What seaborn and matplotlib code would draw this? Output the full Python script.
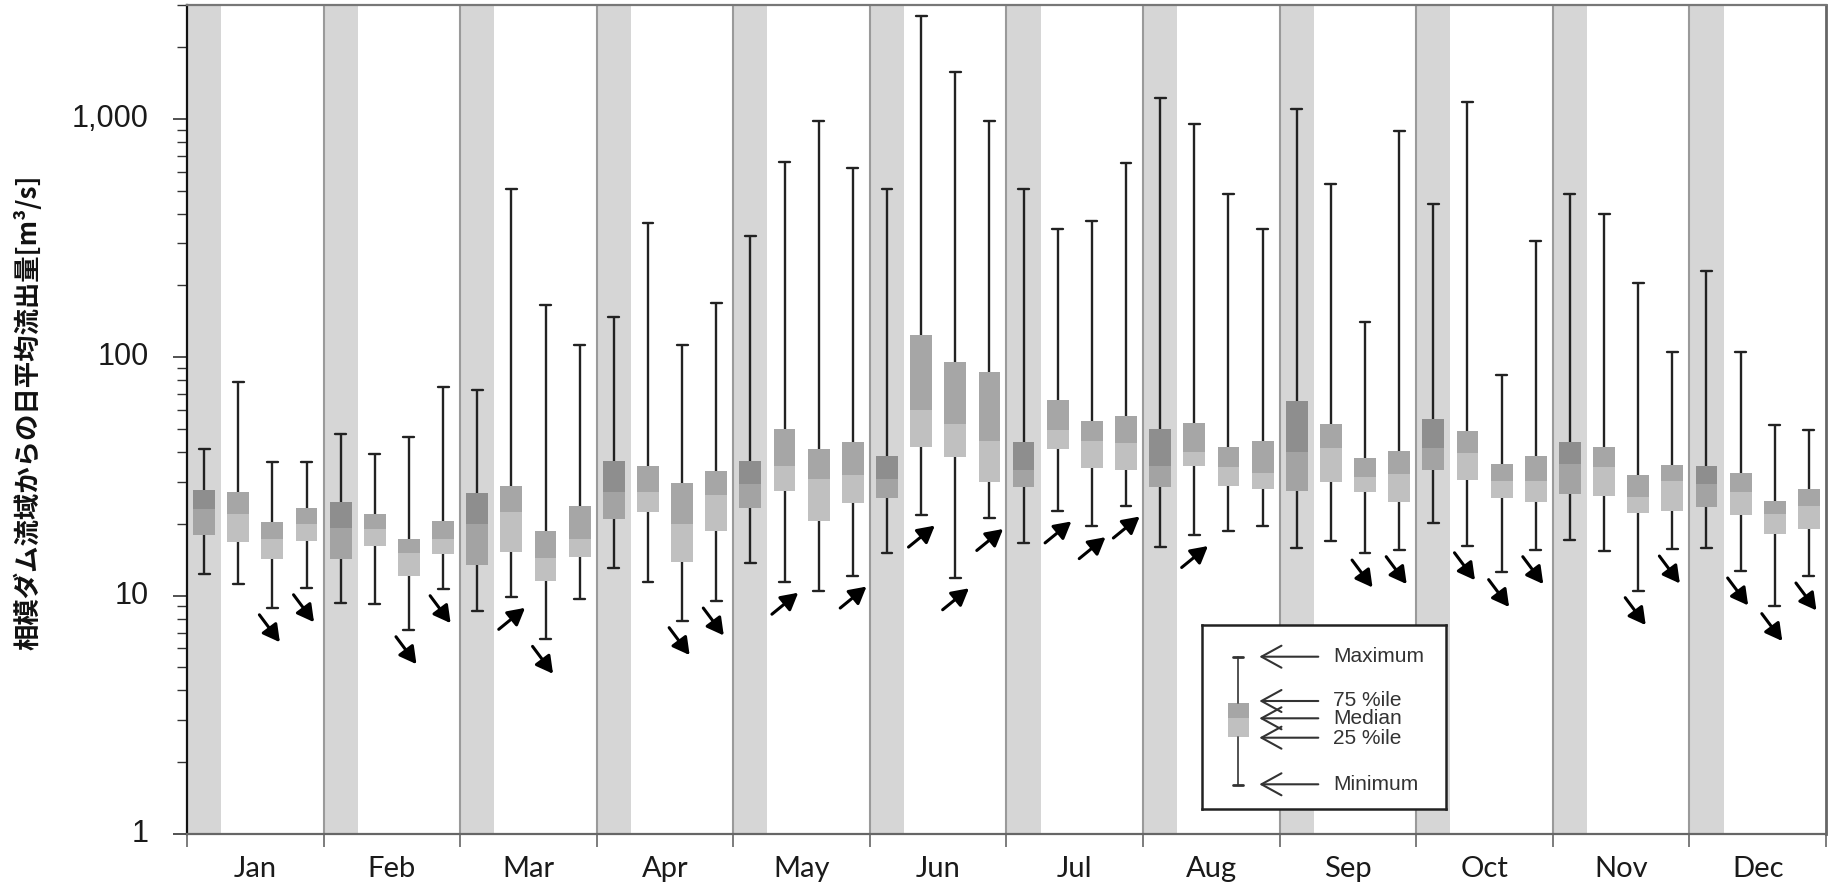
import numpy as np
import pandas as pd
import matplotlib
matplotlib.use("Agg")
import matplotlib.pyplot as plt
from matplotlib.patches import Rectangle
from matplotlib.ticker import FixedLocator, LogLocator, NullFormatter
import seaborn as sns

months = ["Jan", "Feb", "Mar", "Apr", "May", "Jun",
          "Jul", "Aug", "Sep", "Oct", "Nov", "Dec"]

# 4 boxes per month: whole record first (shaded band), then three sub-periods
flow_max = [41, 79, 36.5, 36.5,      47.7, 39.1, 46.2, 75,
            72.5, 505, 165, 112,     148, 367, 112, 168,
            321, 660, 980, 620,      507, 2700, 1570, 980,
            507, 345, 372, 652,      1220, 950, 482, 345,
            1100, 532, 141, 885,     440, 1170, 84.4, 306,
            482, 400, 205, 105,      229, 105, 51.9, 49.6]
flow_q3 = [27.6, 27.2, 20.3, 23.4,   24.6, 21.9, 17.3, 20.5,
           26.9, 28.7, 18.6, 23.8,   36.7, 35.0, 29.6, 33.4,
           36.7, 49.9, 41.1, 43.9,   38.6, 124, 95.7, 86.3,
           44.0, 66.3, 54.2, 56.9,   50.1, 53.2, 42.0, 44.7,
           65.2, 52.4, 37.9, 40.5,   55.0, 49.1, 35.6, 38.6,
           44.0, 41.8, 32.1, 35.4,   34.8, 32.6, 25.0, 28.0]
flow_med = [23.0, 22.0, 17.2, 20.0,  19.3, 19.0, 15.1, 17.2,
            19.9, 22.5, 14.4, 17.2,  27.1, 27.1, 19.9, 26.4,
            29.4, 35.1, 30.9, 31.9,  30.9, 60.2, 52.6, 44.3,
            33.5, 49.6, 44.3, 43.6,  35.1, 40.2, 34.6, 32.8,
            40.2, 41.6, 31.3, 32.4,  41.6, 39.6, 30.3, 30.3,
            35.7, 34.6, 26.0, 30.1,  29.4, 27.3, 22.0, 23.8]
flow_q1 = [18.0, 16.8, 14.3, 17.0,   14.3, 16.2, 12.1, 15.0,
           13.5, 15.3, 11.5, 14.5,   21.0, 22.5, 13.8, 18.7,
           23.2, 27.5, 20.5, 24.5,   25.6, 42.2, 38.3, 29.9,
           28.6, 41.1, 34.2, 33.7,   28.6, 34.8, 28.9, 28.0,
           27.5, 29.9, 27.1, 24.8,   33.7, 30.4, 25.6, 24.6,
           26.6, 26.2, 22.3, 22.7,   23.5, 21.7, 18.1, 19.0]
flow_min = [12.3, 11.2, 8.9, 10.8,   9.35, 9.2, 7.2, 10.7,
            8.6, 9.85, 6.56, 9.66,   13.0, 11.4, 7.86, 9.5,
            13.7, 11.4, 10.5, 12.1,  15.1, 21.8, 11.9, 21.1,
            16.6, 22.7, 19.5, 23.8,  16.0, 17.9, 18.6, 19.5,
            15.8, 16.9, 15.1, 15.6,  20.1, 16.2, 12.5, 15.6,
            17.1, 15.4, 10.5, 15.7,  15.9, 12.7, 9.0, 12.1]
# trend arrows: +1 increasing, -1 decreasing, 0 none
trend = [0, 0, -1, -1,   0, 0, -1, -1,   0, 1, -1, 0,    0, 0, -1, -1,
         0, 1, 0, 1,     0, 1, 1, 1,     0, 1, 1, 1,     0, 1, 0, 0,
         0, 0, -1, -1,   0, -1, -1, -1,  0, 0, -1, -1,   0, -1, -1, -1]

y_ticks = [1, 10, 100, 1000]
y_ticklabels = ['1', '10', '100', '1,000']
legend_labels = ["Maximum", "75 %ile", "Median", "25 %ile", "Minimum"]

sns.set_theme(style="white")
plt.rcParams['font.family'] = ['Liberation Sans', 'DejaVu Sans']

n_box = len(flow_max)
rows = []
for i in range(n_box):
    kind = 'all' if i % 4 == 0 else 'sub'
    for v in (flow_min[i], flow_q1[i], flow_med[i], flow_q3[i], flow_max[i]):
        rows.append({'slot': i, 'flow': v, 'kind': kind})
df = pd.DataFrame(rows)

fig = plt.figure(figsize=(18.29, 8.88), dpi=100)
ax = fig.add_axes([187 / 1829, 54 / 888, 1639 / 1829, 829 / 888])

# shaded first slot of each month + month separators
for k in range(12):
    ax.axvspan(4 * k - 0.5, 4 * k + 0.5, color='#d6d6d6', lw=0, zorder=0)
    if k:
        ax.axvline(4 * k - 0.5, color='#9a9a9a', lw=1.5, zorder=0.5)

sns.boxplot(data=df, x='slot', y='flow', hue='kind',
            palette={'all': '#a3a3a3', 'sub': '#c0c0c0'}, saturation=1,
            dodge=False, width=0.64, whis=(0, 100), linecolor='#222222',
            linewidth=1.7, legend=False, ax=ax,
            boxprops={'linewidth': 0}, medianprops={'visible': False})

# darker upper half (median -> 75 %ile)
pos = np.arange(n_box)
q3 = np.array(flow_q3)
md = np.array(flow_med)
upper_col = ['#8e8e8e' if i % 4 == 0 else '#a6a6a6' for i in pos]
ax.bar(pos, q3 - md, bottom=md, width=0.64, color=upper_col, lw=0, zorder=3)

ax.set_yscale('log')
ax.set_ylim(1, 3000)
ax.set_xlim(-0.5, 47.5)

for i, t in enumerate(trend):
    if t == 0:
        continue
    m = flow_min[i]
    if t < 0:
        tail, head = (i - 0.38, m / 10 ** 0.03), (i + 0.22, m / 10 ** 0.145)
    else:
        tail, head = (i - 0.37, m / 10 ** 0.135), (i + 0.4, m / 10 ** 0.045)
    ax.annotate('', xy=head, xytext=tail, zorder=4,
                arrowprops=dict(arrowstyle='-|>,head_length=0.6,head_width=0.33',
                                color='black', lw=2.2, shrinkA=0, shrinkB=0,
                                mutation_scale=17))

ax.yaxis.set_major_locator(FixedLocator(y_ticks))
ax.yaxis.set_minor_locator(LogLocator(base=10, subs=np.arange(2, 10)))
ax.yaxis.set_minor_formatter(NullFormatter())
ax.tick_params(axis='y', which='major', length=10, width=1.2, direction='out',
               color='#333', left=True, labelleft=False)
ax.tick_params(axis='y', which='minor', length=7, width=1.0, direction='out',
               color='#333', left=True)
# y tick labels placed further from the axis, as in the original
ytrans = ax.get_yaxis_transform()
for v, s in zip(y_ticks, y_ticklabels):
    ax.text(-0.0232, v, s, transform=ytrans, ha='right', va='center',
            fontsize=22, color='#1a1a1a')

ax.set_xticks(np.arange(12) * 4 + 1.5)
ax.set_xticklabels(months, fontfamily='Lato', fontsize=21, color='#1a1a1a')
ax.set_xticks(np.arange(13) * 4 - 0.5, minor=True)
ax.tick_params(axis='x', which='major', length=0, pad=16)
ax.tick_params(axis='x', which='minor', length=9, width=1.2, color='#666',
               direction='out', bottom=True)
ax.set_xlabel('')

ax.spines['left'].set_color('#111')
ax.spines['left'].set_linewidth(1.6)
ax.spines['bottom'].set_color('#666')
ax.spines['bottom'].set_linewidth(1.6)
ax.spines['top'].set_color('#777')
ax.spines['top'].set_linewidth(1.6)
ax.spines['right'].set_color('#666')
ax.spines['right'].set_linewidth(2)

ax.set_ylabel('相模ダム流域からの日平均流出量[m³/s]',
              family=['Noto Sans CJK JP', 'DejaVu Sans'],
              fontsize=19, fontweight='bold', color='#111')
ax.yaxis.set_label_coords(-0.088, 0.509)

# explanatory legend box (pixel units inside)
lax = fig.add_axes([1201.5 / 1829, 1 - 809 / 888, 244 / 1829, 184 / 888])
lax.set_xlim(0, 244)
lax.set_ylim(184, 0)
lax.set_xticks([])
lax.set_yticks([])
lax.set_facecolor('white')
for s in lax.spines.values():
    s.set_color('#222')
    s.set_linewidth(1.8)

wx = 36.8
lax.plot([wx, wx], [31.7, 77.7], color='#444', lw=1.3)
lax.plot([wx, wx], [111.7, 160], color='#444', lw=1.3)
lax.plot([wx - 5, wx + 5], [31.7, 31.7], color='#333', lw=2)
lax.plot([wx - 5, wx + 5], [160, 160], color='#333', lw=2)
lax.add_patch(Rectangle((26.8, 77.7), 21, 15.6, color='#a6a6a6', lw=0))
lax.add_patch(Rectangle((26.8, 93.3), 21, 18.4, color='#c0c0c0', lw=0))

arrow_y = [31.7, 76, 93.3, 112.7, 159.3]
text_y = [31.7, 75, 93.3, 113.3, 160]
for lab, ay, ty in zip(legend_labels, arrow_y, text_y):
    lax.annotate('', xy=(57.8, ay), xytext=(116.8, ay),
                 arrowprops=dict(arrowstyle='->,head_length=0.6,head_width=0.33',
                                 color='#333', lw=1.5, shrinkA=0, shrinkB=0,
                                 mutation_scale=24))
    lax.text(131.8, ty, lab, va='center', ha='left', fontsize=15, color='#333')

fig.savefig('out.png', dpi=100, facecolor='white')
